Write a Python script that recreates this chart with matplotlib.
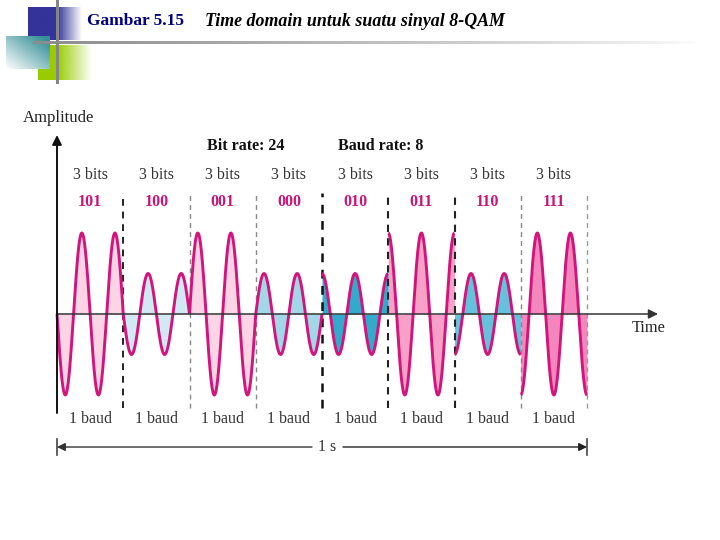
import numpy as np
import matplotlib
matplotlib.use("Agg")
import matplotlib.pyplot as plt

# ---------------- data ----------------
bit_groups = ['101', '100', '001', '000', '010', '011', '110', '111']
amplitudes = [2, 1, 2, 1, 1, 2, 1, 2]          # relative amplitude
phases_deg = [180, 180, 0, 0, 90, 90, 270, 270]  # phase of the carrier
baud_rate = 8
bit_rate = 24
cycles_per_baud = 2
top_labels = ['3 bits'] * 8
bottom_labels = ['1 baud'] * 8

fill_colors = ['#fcd4e5', '#d0e9f2', '#fcd4e5', '#a3d7e8',
               '#33a9cb', '#f7a1c9', '#66c2dc', '#f386bc']
line_color = '#d2157c'
divider_colors = ['#222222', '#888888', '#888888', '#111111',
                  '#222222', '#222222', '#888888', '#999999']
divider_widths = [1.4, 1.0, 1.0, 1.8, 1.5, 1.5, 1.0, 1.0]

# ---------------- figure ----------------
W, H = 720, 540
fig = plt.figure(figsize=(7.2, 5.4), dpi=100)
fig.patch.set_facecolor('white')

# pixel mapping helpers for the chart axes
X0, XW = 57.0, 530.0          # time 0 at px 57, 1 s spans 530 px
Y0, YU = 314.0, 40.5          # baseline at px 314 (from top), 1 unit = 40.5 px
def xd(px):
    return (px - X0) / XW
def yd(py):
    return (Y0 - py) / YU

ax = fig.add_axes([0, 0, 1, 1])
ax.set_xlim(xd(0), xd(W))
ax.set_ylim(yd(H), yd(0))
ax.axis('off')

serif = ['Liberation Serif', 'DejaVu Serif']

# waveform
T = 1.0 / baud_rate
f = cycles_per_baud * baud_rate
for i, (A, ph) in enumerate(zip(amplitudes, phases_deg)):
    t = np.linspace(i * T, (i + 1) * T, 400)
    y = A * np.sin(2 * np.pi * f * t + np.deg2rad(ph))
    ax.fill_between(t, y, 0, color=fill_colors[i], lw=0, zorder=2)
    ax.plot(t, y, color=line_color, lw=2.1, zorder=4, solid_capstyle='butt')

# dividers
for i in range(1, len(bit_groups) + 1):
    xb = i * T
    ax.plot([xb, xb], [yd(408), yd(193)], color=divider_colors[i - 1],
            lw=divider_widths[i - 1], ls=(0, (3.5, 3)), zorder=3)

# time axis
ax.annotate('', xy=(xd(658), 0), xytext=(0, 0),
            arrowprops=dict(arrowstyle='-|>', color='#333333', lw=1.1,
                            mutation_scale=14, shrinkA=0, shrinkB=0), zorder=5)
ax.text(xd(649), yd(328), 'Time', ha='center', va='center',
        fontsize=11.8, family=serif, color='#222222')

# amplitude axis
ax.annotate('', xy=(0, yd(135)), xytext=(0, yd(413)),
            arrowprops=dict(arrowstyle='-|>', color='#111111', lw=1.4,
                            mutation_scale=14, shrinkA=0, shrinkB=0), zorder=5)
ax.text(xd(59), yd(118), 'Amplitude', ha='center', va='center',
        fontsize=12, family=serif, color='#222222')

# rates
ax.text(xd(246), yd(146), f'Bit rate: {bit_rate}', ha='center', va='center',
        fontsize=11.5, family=serif, weight='bold', color='#111111')
ax.text(xd(381), yd(146), f'Baud rate: {baud_rate}', ha='center', va='center',
        fontsize=11.5, family=serif, weight='bold', color='#111111')

# labels per baud
for i, b in enumerate(bit_groups):
    xc = (i + 0.5) * T
    ax.text(xc, yd(175), top_labels[i], ha='center', va='center',
            fontsize=11.5, family=serif, color='#333333')
    ax.text(xc, yd(202), b, ha='center', va='center',
            fontsize=11.5, family=serif, weight='bold', color='#c8157a')
    ax.text(xc, yd(419), bottom_labels[i], ha='center', va='center',
            fontsize=11.5, family=serif, color='#333333')

# 1 s span
ys = yd(447)
ax.annotate('', xy=(0, ys), xytext=(xd(312), ys),
            arrowprops=dict(arrowstyle='-|>', color='#333333', lw=1.0,
                            mutation_scale=12, shrinkA=0, shrinkB=0))
ax.annotate('', xy=(1.0, ys), xytext=(xd(343), ys),
            arrowprops=dict(arrowstyle='-|>', color='#222222', lw=1.0,
                            mutation_scale=12, shrinkA=0, shrinkB=0))
ax.text(xd(327), ys, '1 s', ha='center', va='center',
        fontsize=11.5, family=serif, color='#333333')
for xe in (0.0, 1.0):
    ax.plot([xe, xe], [yd(439), yd(455)], color='#444444', lw=1.2)

# ---------------- header decoration (pixel overlay) ----------------
deco = fig.add_axes([0, 0, 1, 1], zorder=-1)
deco.set_xlim(0, W)
deco.set_ylim(H, 0)
deco.axis('off')

def hgrad(x0, x1, y0, y1, rgb, solid_to, n=200):
    xs = np.linspace(x0, x1, n)
    a = np.clip(1 - (xs - solid_to) / (x1 - solid_to), 0, 1)
    a[xs <= solid_to] = 1
    img = np.zeros((2, n, 4))
    img[..., :3] = rgb
    img[..., 3] = a
    deco.imshow(img, extent=(x0, x1, y1, y0), aspect='auto',
                interpolation='bilinear', zorder=1)

hgrad(28, 82, 7, 40, (0.2, 0.2, 0.6), 57)
hgrad(38, 92, 45, 80, (0.6, 0.8, 0.0), 57)

# teal diagonal gradient
n = 120
gx, gy = np.meshgrid(np.linspace(0, 1, n), np.linspace(0, 1, n))
s = np.clip(0.55 * gx + 0.55 * (1 - gy), 0, 1)
teal = np.array([0.18, 0.55, 0.58])
img = np.ones((n, n, 3)) * (1 - s[..., None]) + teal * s[..., None]
img = img * 0.97 + 0.03
deco.imshow(np.dstack([img, np.ones((n, n))]), extent=(6, 50, 69, 36),
            aspect='auto', interpolation='bilinear', zorder=2)

deco.plot([57, 57], [0, 82], color='#858585', lw=2.2, zorder=3)
# fading horizontal rule
n = 300
img = np.zeros((2, n, 4))
img[..., :3] = 0.55
img[..., 3] = np.linspace(1, 0, n) ** 0.8
deco.imshow(img, extent=(33, 700, 44.5, 41.5), aspect='auto',
            interpolation='bilinear', zorder=3)

deco.text(87, 21, 'Gambar 5.15', ha='left', va='center', fontsize=12.5,
          family=serif, weight='bold', color='#000080')
deco.text(205, 21, 'Time domain untuk suatu sinyal 8-QAM', ha='left',
          va='center', fontsize=12.9, family=serif, weight='bold',
          style='italic', color='#000000')

fig.savefig('out.png', dpi=100, facecolor='white')
